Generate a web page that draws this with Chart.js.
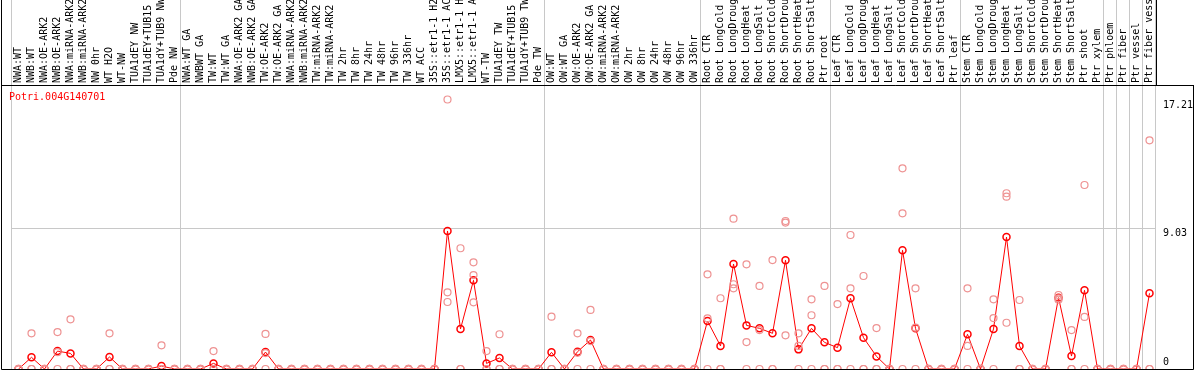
<!DOCTYPE html>
<html>
<head>
<meta charset="utf-8">
<script src="https://cdn.jsdelivr.net/npm/chart.js@4.4.1/dist/chart.umd.min.js"></script>
<style>
  body { margin: 0; background: #fff; }
  canvas { display: block; }
</style>
</head>
<body>
<canvas id="grafica1" width="1194" height="370"></canvas>
<script>
// muestras (eje x)
const etiquetas = [
  "NWA:WT", "NWB:WT", "NWA:OE-ARK2", "NWB:OE-ARK2", "NWA:miRNA-ARK2", "NWB:miRNA-ARK2",
  "NW 0hr", "WT H2O", "WT-NW", "TUA1dEY NW", "TUA1dEY+TUB15", "TUA1dY+TUB9 NW", "Pde NW",
  "NWA:WT GA", "NWBWT GA", "TW:WT", "TW:WT GA", "NWA:OE-ARK2 GA", "NWB:OE-ARK2 GA",
  "TW:OE-ARK2", "TW:OE-ARK2 GA", "NWA:miRNA-ARK2", "NWB:miRNA-ARK2", "TW:miRNA-ARK2",
  "TW:miRNA-ARK2", "TW 2hr", "TW 8hr", "TW 24hr", "TW 48hr", "TW 96hr", "TW 336hr",
  "WT ACC", "35S::etr1-1 H2O", "35S::etr1-1 ACC", "LMX5::etr1-1 H2O", "LMX5::etr1-1 ACC",
  "WT-TW", "TUA1dEY TW", "TUA1dEY+TUB15", "TUA1dY+TUB9 TW", "Pde TW",
  "OW:WT", "OW:WT GA", "OW:OE-ARK2", "OW:OE-ARK2 GA", "OW:miRNA-ARK2", "OW:miRNA-ARK2",
  "OW 2hr", "OW 8hr", "OW 24hr", "OW 48hr", "OW 96hr", "OW 336hr",
  "Root CTR", "Root LongCold", "Root LongDrought", "Root LongHeat", "Root LongSalt",
  "Root ShortCold", "Root ShortDrought", "Root ShortHeat", "Root ShortSalt", "Ptr root",
  "Leaf CTR", "Leaf LongCold", "Leaf LongDrought", "Leaf LongHeat", "Leaf LongSalt",
  "Leaf ShortCold", "Leaf ShortDrought", "Leaf ShortHeat", "Leaf ShortSalt", "Ptr leaf",
  "Stem CTR", "Stem LongCold", "Stem LongDrought", "Stem LongHeat", "Stem LongSalt",
  "Stem ShortCold", "Stem ShortDrought", "Stem ShortHeat", "Stem ShortSalt", "Ptr shoot",
  "Ptr xylem", "Ptr phloem", "Ptr fiber", "Ptr vessel", "Ptr fiber vessel",
];

// promedio por muestra
const media = [
  0, 0.75, 0, 1.15, 1.0, 0, 0, 0.77, 0, 0,
  0, 0.19, 0, 0, 0, 0.36, 0, 0, 0, 1.09,
  0, 0, 0, 0, 0, 0, 0, 0, 0, 0,
  0, 0, 0, 8.86, 2.57, 5.69, 0.36, 0.71, 0, 0,
  0, 1.07, 0, 1.11, 1.86, 0, 0, 0, 0, 0,
  0, 0, 0, 3.08, 1.48, 6.74, 2.8, 2.61, 2.29, 6.98,
  1.26, 2.61, 1.71, 1.37, 4.54, 2.01, 0.81, 0, 7.62, 2.61,
  0, 0, 0, 2.23, 0, 2.57, 8.47, 1.48, 0, 0,
  4.58, 0.83, 5.05, 0, 0, 0, 0, 4.86,
];

// replicas
const rep1 = [
  0, 2.29, 0, 2.37, 3.19, 0, 0, 2.29, 0, 0,
  0, 1.52, 0, 0, 0, 1.15, 0, 0, 0, 2.25,
  0, 0, 0, 0, 0, 0, 0, 0, 0, 0,
  0, 0, 0, 17.3, 7.75, 6.85, 1.15, 2.23, 0, 0,
  0, 3.36, 0, 2.29, 3.79, 0, 0, 0, 0, 0,
  0, 0, 0, 6.08, 4.54, 9.65, 6.72, 5.33, 6.99, 9.5,
  2.29, 4.47, 5.33, 4.17, 8.6, 5.97, 2.63, 0, 12.88, 5.18,
  0, 0, 0, 5.18, 0, 4.47, 11.28, 4.43, 0, 0,
  4.75, 2.5, 11.81, 0, 0, 0, 0, 14.68,
];
const rep2 = [
  0, 0, 0, 1.08, 0, 0, 0, 0, 0, 0,
  0, 0, 0, 0, 0, 0, 0, 0, 0, 1.02,
  0, 0, 0, 0, 0, 0, 0, 0, 0, 0,
  0, 0, 0, 4.92, 0, 6.03, 0, 0, 0, 0,
  0, 0, 0, 1.04, 1.79, 0, 0, 0, 0, 0,
  0, 0, 0, 3.25, 0, 5.44, 1.73, 2.5, 0, 9.4,
  1.48, 3.45, 0, 0, 5.18, 0, 0, 0, 9.99, 2.65,
  0, 0, 0, 1.48, 0, 3.27, 11.06, 0, 0, 0,
  4.54, 0, 3.34, 0, 0, 0, 0, 0,
];
const rep3 = [
  0, 0, 0, 0, 0, 0, 0, 0, 0, 0,
  0, 0, 0, 0, 0, 0, 0, 0, 0, 0,
  0, 0, 0, 0, 0, 0, 0, 0, 0, 0,
  0, 0, 0, 4.3, 0, 4.28, 0, 0, 0, 0,
  0, 0, 0, 0, 0, 0, 0, 0, 0, 0,
  0, 0, 0, 0, 0, 5.18, 0, 0, 0, 2.16,
  0, 0, 0, 0, 0, 0, 0, 0, 0, 0,
  0, 0, 0, 0, 0, 0, 2.97, 0, 0, 0,
  4.45, 0, 0, 0, 0, 0, 0, 0,
];

// inicio de cada grupo de muestras
const cortes = [0, 13, 41, 53, 63, 73, 84, 85, 86, 87, 88];
const ticksY = [0, 9.03, 17.21];
const etiquetasY = ["0", "9.03", "17.21"];
const gen = "Potri.004G140701";

const fuente = { family: "DejaVu Sans Mono", size: 10 };

const marco = {
  id: "marco",
  beforeDatasetsDraw(chart) {
    const c = chart.ctx;
    const x = chart.scales.x;
    const area = chart.chartArea;
    const paso = x.getPixelForValue(1) - x.getPixelForValue(0);
    c.save();
    c.strokeStyle = "#c8c8c8";
    c.lineWidth = 1;
    cortes.forEach((k) => {
      let m;
      if (k === 0) m = x.getPixelForValue(0) - paso / 2;
      else if (k >= etiquetas.length) m = x.getPixelForValue(k - 1) + paso / 2;
      else m = (x.getPixelForValue(k - 1) + x.getPixelForValue(k)) / 2;
      c.beginPath();
      c.moveTo(m - 0.5, 0);
      c.lineTo(m - 0.5, area.bottom);
      c.stroke();
    });
    // texto del gen
    c.fillStyle = "#ff0000";
    c.font = "10px 'DejaVu Sans Mono'";
    c.textBaseline = "middle";
    c.textAlign = "left";
    c.fillText(gen, 9, area.top + 12);
    c.restore();
  },
  afterDraw(chart) {
    const c = chart.ctx;
    const y = chart.scales.y;
    const area = chart.chartArea;
    c.save();
    c.strokeStyle = "#000";
    c.lineWidth = 1;
    c.beginPath();
    c.moveTo(1.5, 0);
    c.lineTo(1.5, area.bottom + 0.5);
    c.lineTo(chart.width - 0.5, area.bottom + 0.5);
    c.moveTo(1.5, area.top + 0.5);
    c.lineTo(chart.width, area.top + 0.5);
    c.moveTo(area.right + 0.5, 0);
    c.lineTo(area.right + 0.5, area.top);
    c.moveTo(chart.width - 0.5, area.top);
    c.lineTo(chart.width - 0.5, area.bottom + 0.5);
    c.stroke();
    // etiquetas del eje y
    c.fillStyle = "#000";
    c.font = "10px 'DejaVu Sans Mono'";
    c.textAlign = "left";
    c.textBaseline = "middle";
    ticksY.forEach((v, i) => {
      const py = y.getPixelForValue(v);
      c.fillText(etiquetasY[i], area.right + 7, v === 0 ? py - 7 : py + 5);
    });
    c.restore();
  },
};

const ctx = document.getElementById("grafica1");

const puntosRep = (datos) => ({
  data: datos,
  showLine: false,
  pointRadius: 3.5,
  pointBorderWidth: 1.2,
  pointBorderColor: "#ee9292",
  pointBackgroundColor: "rgba(0,0,0,0)",
  clip: false,
});

new Chart(ctx, {
  type: "line",
  data: {
    labels: etiquetas,
    datasets: [
      puntosRep(rep3),
      puntosRep(rep2),
      puntosRep(rep1),
      {
        data: media,
        borderColor: "#ff0000",
        borderWidth: 1,
        pointRadius: 3.5,
        pointBorderWidth: 1.5,
        pointBorderColor: "#ff0000",
        pointBackgroundColor: "rgba(0,0,0,0)",
        tension: 0,
        clip: false,
      },
    ],
  },
  options: {
    responsive: false,
    animation: false,
    devicePixelRatio: 1,
    layout: { autoPadding: false, padding: { left: 12, right: 0, top: 0, bottom: 1 } },
    plugins: { legend: { display: false }, tooltip: { enabled: false } },
    scales: {
      x: {
        type: "category",
        position: "top",
        offset: true,
        grid: { display: false, drawTicks: false },
        border: { display: false },
        ticks: {
          autoSkip: false,
          minRotation: 90,
          maxRotation: 90,
          padding: 2,
          labelOffset: 12,
          color: "#000",
          font: fuente,
        },
        afterFit: (s) => {
          s.height = 85;
          s.paddingLeft = 0;
          s.paddingRight = 0;
        },
      },
      y: {
        position: "right",
        min: 0,
        max: 18.23,
        border: { display: false },
        grid: {
          drawTicks: false,
          color: (c) => (c.tick && c.tick.value === 9.03 ? "#c8c8c8" : "rgba(0,0,0,0)"),
        },
        ticks: { display: false },
        afterBuildTicks: (s) => { s.ticks = ticksY.map((v) => ({ value: v })); },
        afterFit: (s) => {
          s.width = 38;
          s.paddingTop = 0;
          s.paddingBottom = 0;
        },
      },
    },
  },
  plugins: [marco],
});
</script>
</body>
</html>
